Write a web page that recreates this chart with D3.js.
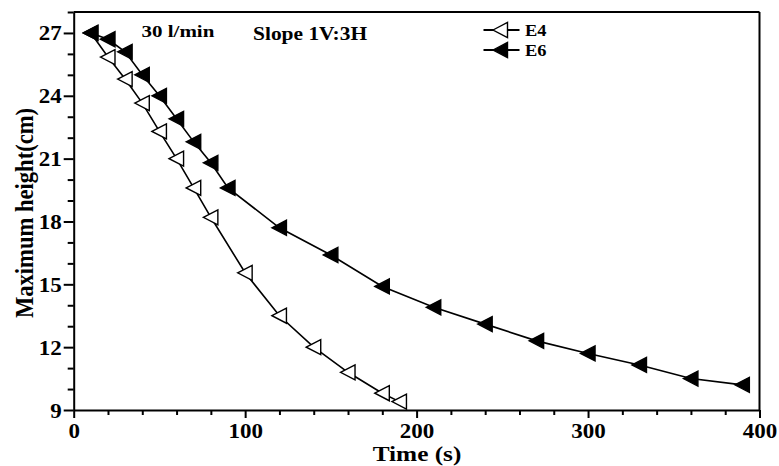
<!DOCTYPE html>
<html>
<head>
<meta charset="utf-8">
<script src="https://cdn.jsdelivr.net/npm/d3@7"></script>
<style>
  html, body { margin: 0; padding: 0; background: #fff; }
  svg { display: block; }
  text { font-family: "Liberation Serif", "Times New Roman", serif; font-weight: bold; fill: #000; }
</style>
</head>
<body>
<svg id="chart" width="779" height="466"></svg>
<script>
// ---- data ----
const e4Time   = [10, 20, 30, 40, 50, 60, 70, 80, 100, 120, 140, 160, 180, 190];
const e4Height = [27, 25.85, 24.8, 23.65, 22.3, 21.0, 19.6, 18.2, 15.55, 13.5, 12.0, 10.8, 9.8, 9.4];
const e6Time   = [10, 20, 30, 40, 50, 60, 70, 80, 90, 120, 150, 180, 210, 240, 270, 300, 330, 360, 390];
const e6Height = [27, 26.7, 26.1, 25.0, 24.0, 22.9, 21.8, 20.8, 19.6, 17.7, 16.4, 14.9, 13.9, 13.1, 12.3, 11.7, 11.15, 10.5, 10.2];
const xTicks = [0, 100, 200, 300, 400];
const yTicks = [9, 12, 15, 18, 21, 24, 27];
const seriesNames = ["E4", "E6"];
const xTitle = "Time (s)";
const yTitle = "Maximum height(cm)";
const notes = ["30 l/min", "Slope 1V:3H"];

const SX = 1.15; // horizontal stretch of the original text

const svg = d3.select("#chart");
const L = 73.7, R = 759.5, T = 12, B = 410;
const x = d3.scaleLinear().domain([0, 400]).range([L, R]);
const y = d3.scaleLinear().domain([9, 28]).range([B, T]);

// frame (top and right)
svg.append("line").attr("x1", L).attr("x2", R).attr("y1", T).attr("y2", T)
  .attr("stroke", "#000").attr("stroke-width", 2);
svg.append("line").attr("x1", R).attr("x2", R).attr("y1", T).attr("y2", B)
  .attr("stroke", "#000").attr("stroke-width", 2);

// minor ticks
const xMinor = d3.range(0, 401, 20).filter(v => !xTicks.includes(v));
const yMinor = d3.range(9, 28.01, 1).filter(v => !yTicks.includes(v));
const gxMinor = svg.append("g").attr("transform", `translate(0,${B})`)
  .call(d3.axisBottom(x).tickValues(xMinor).tickSize(5).tickFormat(""));
const gyMinor = svg.append("g").attr("transform", `translate(${L},0)`)
  .call(d3.axisLeft(y).tickValues(yMinor).tickSize(6).tickFormat(""));
[gxMinor, gyMinor].forEach(g => {
  g.select(".domain").remove();
  g.selectAll("line").attr("stroke", "#000").attr("stroke-width", 2);
});

// major axes
const gx = svg.append("g").attr("transform", `translate(0,${B})`)
  .call(d3.axisBottom(x).tickValues(xTicks).tickSize(8).tickPadding(4).tickSizeOuter(0));
const gy = svg.append("g").attr("transform", `translate(${L},0)`)
  .call(d3.axisLeft(y).tickValues(yTicks).tickSize(10).tickPadding(2).tickSizeOuter(0));
[gx, gy].forEach(g => {
  g.select(".domain").attr("stroke", "#000").attr("stroke-width", 2);
  g.selectAll("line").attr("stroke", "#000").attr("stroke-width", 2);
  g.selectAll("text").attr("font-size", 20).attr("fill", "#000")
    .style("font-family", '"Liberation Serif", serif').style("font-weight", "bold");
});
// stretch labels horizontally about their anchor
gx.selectAll(".tick text").attr("dy", null).attr("y", 0)
  .attr("transform", `translate(0,28) scale(${SX},1)`);
gy.selectAll(".tick text").attr("dy", null).attr("x", 0)
  .attr("transform", `translate(-12,7) scale(${SX},1)`);

// axis titles
svg.append("text").attr("text-anchor", "middle").attr("font-size", 22)
  .attr("transform", `translate(417,461) scale(${SX},1)`).text(xTitle);
svg.append("text").attr("text-anchor", "middle").attr("font-size", 22.6)
  .attr("transform", `translate(33,213) rotate(-90) scale(1,${SX})`).text(yTitle);

// annotations
svg.append("text").attr("font-size", 17.5)
  .attr("transform", `translate(141.5,36.5) scale(${SX + 0.05},1)`).text(notes[0]);
svg.append("text").attr("font-size", 19.5)
  .attr("transform", `translate(253,40) scale(${SX - 0.05},1)`).text(notes[1]);

// marker (left-pointing triangle)
const tri = "M-7.5,0L7,-7.5L7,7.5Z";
const line = d3.line().x(d => x(d[0])).y(d => y(d[1]));
const series = [
  { name: seriesNames[0], pts: e4Time.map((t, i) => [t, e4Height[i]]), fill: "#fff" },
  { name: seriesNames[1], pts: e6Time.map((t, i) => [t, e6Height[i]]), fill: "#000" }
];
series.forEach(s => {
  svg.append("path").datum(s.pts).attr("d", line)
    .attr("fill", "none").attr("stroke", "#000").attr("stroke-width", 1.6);
});
series.forEach(s => {
  svg.append("g").selectAll("path").data(s.pts).join("path")
    .attr("d", tri)
    .attr("transform", d => `translate(${x(d[0])},${y(d[1])})`)
    .attr("fill", s.fill).attr("stroke", "#000").attr("stroke-width", 1.4);
});

// legend
const leg = svg.append("g");
series.forEach((s, i) => {
  const ly = 30 + i * 20;
  leg.append("line").attr("x1", 483.5).attr("x2", 519.5).attr("y1", ly).attr("y2", ly)
    .attr("stroke", "#000").attr("stroke-width", 2);
  leg.append("path").attr("d", tri).attr("transform", `translate(500.5,${ly})`)
    .attr("fill", s.fill).attr("stroke", "#000").attr("stroke-width", 1.4);
  leg.append("text").attr("font-size", 16)
    .attr("transform", `translate(525,${ly + 6}) scale(${SX},1)`).text(s.name);
});
</script>
</body>
</html>
